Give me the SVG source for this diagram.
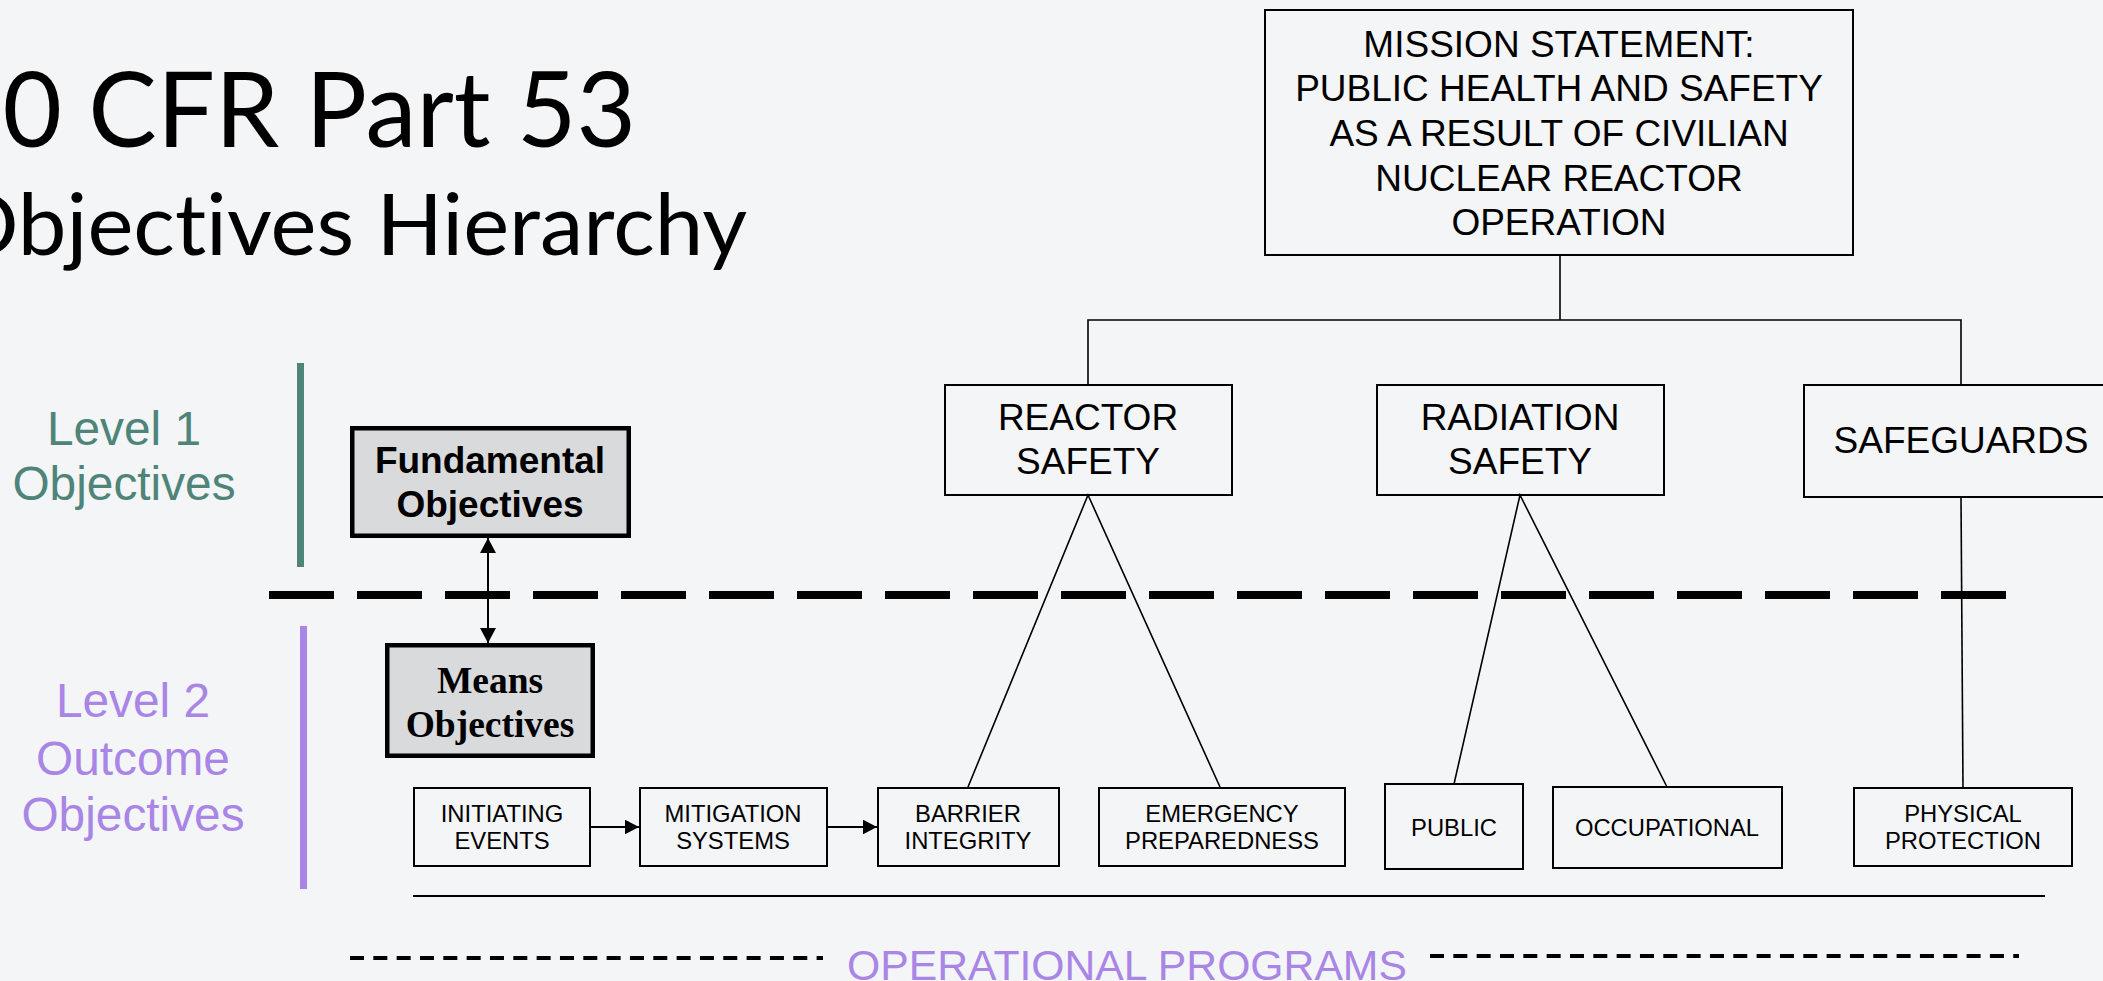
<svg xmlns="http://www.w3.org/2000/svg" width="2103" height="981" viewBox="0 0 2103 981">
<style>
.bg{fill:#F4F5F7}
.box{fill:none;stroke:#000;stroke-width:2}
.gbox{fill:#D9DADC;stroke:#000;stroke-width:4.5}
.t36{font-family:"Liberation Sans",Arial,sans-serif;font-size:37px;fill:#000;text-anchor:middle}
.t24{font-family:"Liberation Sans",Arial,sans-serif;font-size:23.8px;fill:#000;text-anchor:middle}
.lvl{font-family:"Liberation Sans",Arial,sans-serif;font-size:47.8px;text-anchor:middle}
.teal{fill:#4F8479}
.purple{fill:#A985E6}
.fo{font-family:"Liberation Sans",Arial,sans-serif;font-weight:bold;font-size:37px;fill:#000;text-anchor:middle}
.mo{font-family:"Liberation Serif","Times New Roman",serif;font-weight:bold;font-size:37.5px;fill:#000;text-anchor:middle}
.title{font-family:Lato,"Open Sans",sans-serif;fill:#000;font-variant-ligatures:none;font-feature-settings:"liga" 0}
.conn{fill:none;stroke:#000;stroke-width:1.6}
.arr{fill:none;stroke:#000;stroke-width:2}
</style>
<defs>
<marker id="ah" markerUnits="userSpaceOnUse" markerWidth="14" markerHeight="15" refX="14" refY="7.3" orient="auto">
<path d="M0,0 L14,7.3 L0,14.6 z" fill="#000"/>
</marker>
<marker id="ah2" markerUnits="userSpaceOnUse" markerWidth="15" markerHeight="16" refX="15" refY="8" orient="auto-start-reverse">
<path d="M0,0 L15,8 L0,16 z" fill="#000"/>
</marker>
</defs>
<rect class="bg" x="0" y="0" width="2103" height="981"/>

<g id="title">
<text class="title" x="-57" y="147" font-size="105" textLength="693" lengthAdjust="spacingAndGlyphs">10 CFR Part 53</text>
<text class="title" x="-51" y="255" font-size="85" textLength="798" lengthAdjust="spacingAndGlyphs">Objectives Hierarchy</text>
</g>

<g id="level1">
<rect x="297" y="363" width="7" height="204" fill="#4F8479"/>
<text class="lvl teal" x="124" y="445">Level 1</text>
<text class="lvl teal" x="124" y="500">Objectives</text>
</g>
<g id="level2">
<rect x="300" y="626" width="7" height="263" fill="#A985E6"/>
<text class="lvl purple" x="133" y="717">Level 2</text>
<text class="lvl purple" x="133" y="775">Outcome</text>
<text class="lvl purple" x="133" y="831">Objectives</text>
</g>

<g id="divider">
<line x1="269" y1="595" x2="2008" y2="595" stroke="#000" stroke-width="8" stroke-dasharray="65 23"/>
</g>

<g id="connectors">
<line class="arr" x1="488" y1="538" x2="488" y2="643" marker-start="url(#ah2)" marker-end="url(#ah2)"/>
<line class="arr" x1="590" y1="827" x2="639" y2="827" marker-end="url(#ah)"/>
<line class="arr" x1="827" y1="827" x2="877" y2="827" marker-end="url(#ah)"/>
<polyline class="conn" points="1560,256 1560,320"/>
<polyline class="conn" points="1088,384 1088,320 1961,320 1961,384"/>
<polyline class="conn" points="968,787 1088,495 1220,787"/>
<polyline class="conn" points="1454,784 1520,495 1667,787"/>
<line class="conn" x1="1961" y1="497" x2="1963" y2="788"/>
<line x1="413" y1="896" x2="2045" y2="896" stroke="#000" stroke-width="2"/>
<line x1="350" y1="958" x2="823" y2="958" stroke="#000" stroke-width="4" stroke-dasharray="14 9.33"/>
<line x1="1430" y1="956" x2="2019" y2="956" stroke="#000" stroke-width="4" stroke-dasharray="14 9.33"/>
</g>

<g id="fundamental">
<rect class="gbox" x="352.25" y="428.25" width="276.5" height="107.5"/>
<text class="fo" x="490" y="473">Fundamental</text>
<text class="fo" x="490" y="517">Objectives</text>
</g>
<g id="means">
<rect class="gbox" x="387.25" y="645.25" width="205.5" height="110.5"/>
<text class="mo" x="490" y="693">Means</text>
<text class="mo" x="490" y="737">Objectives</text>
</g>

<g id="mission">
<rect class="box" x="1265" y="10" width="588" height="245"/>
<text class="t36" x="1559" y="57">MISSION STATEMENT:</text>
<text class="t36" x="1559" y="101">PUBLIC HEALTH AND SAFETY</text>
<text class="t36" x="1559" y="146">AS A RESULT OF CIVILIAN</text>
<text class="t36" x="1559" y="191">NUCLEAR REACTOR</text>
<text class="t36" x="1559" y="235">OPERATION</text>
</g>
<g id="reactor-safety">
<rect class="box" x="945" y="385" width="287" height="110"/>
<text class="t36" x="1088" y="430">REACTOR</text>
<text class="t36" x="1088" y="474">SAFETY</text>
</g>
<g id="radiation-safety">
<rect class="box" x="1377" y="385" width="287" height="110"/>
<text class="t36" x="1520" y="430">RADIATION</text>
<text class="t36" x="1520" y="474">SAFETY</text>
</g>
<g id="safeguards">
<rect class="box" x="1804" y="385" width="314" height="112"/>
<text class="t36" x="1961" y="453">SAFEGUARDS</text>
</g>

<g id="initiating-events">
<rect class="box" x="414" y="788" width="176" height="78"/>
<text class="t24" x="502" y="822">INITIATING</text>
<text class="t24" x="502" y="849">EVENTS</text>
</g>
<g id="mitigation-systems">
<rect class="box" x="640" y="788" width="187" height="78"/>
<text class="t24" x="733" y="822">MITIGATION</text>
<text class="t24" x="733" y="849">SYSTEMS</text>
</g>
<g id="barrier-integrity">
<rect class="box" x="878" y="788" width="181" height="78"/>
<text class="t24" x="968" y="822">BARRIER</text>
<text class="t24" x="968" y="849">INTEGRITY</text>
</g>
<g id="emergency-preparedness">
<rect class="box" x="1099" y="788" width="246" height="78"/>
<text class="t24" x="1222" y="822">EMERGENCY</text>
<text class="t24" x="1222" y="849">PREPAREDNESS</text>
</g>
<g id="public">
<rect class="box" x="1385" y="784" width="138" height="85"/>
<text class="t24" x="1454" y="836">PUBLIC</text>
</g>
<g id="occupational">
<rect class="box" x="1553" y="787" width="229" height="81"/>
<text class="t24" x="1667" y="836">OCCUPATIONAL</text>
</g>
<g id="physical-protection">
<rect class="box" x="1854" y="788" width="218" height="78"/>
<text class="t24" x="1963" y="822">PHYSICAL</text>
<text class="t24" x="1963" y="849">PROTECTION</text>
</g>

<g id="operational-programs">
<text x="1127" y="980" font-family="Liberation Sans, Arial, sans-serif" font-size="42.7" fill="#A985E6" text-anchor="middle">OPERATIONAL PROGRAMS</text>
</g>
</svg>
